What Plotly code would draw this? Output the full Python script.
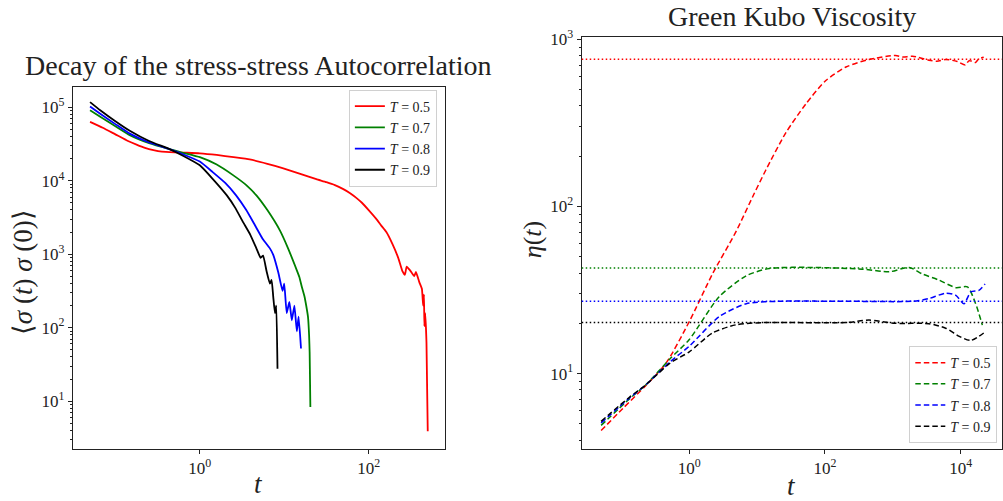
import plotly.graph_objects as go

# ---------------- data ----------------
temps = ["0.5", "0.7", "0.8", "0.9"]

# Left panel: stress-stress autocorrelation <sigma(t) sigma(0)>
acf_t_05 = [0.0501, 0.0708, 0.1, 0.141, 0.178, 0.224, 0.282, 0.355, 0.501, 0.708, 1.0, 1.585, 2.51,
            3.89, 6.31, 9.55, 15.8, 24.0, 31.6, 39.8, 50.1, 60.3, 70.8, 83.2, 100, 123, 141, 162,
            191, 224, 251, 269, 282, 309, 347, 363, 398, 427, 442, 452, 457, 468, 484, 501]
acf_y_05 = [63100, 52500, 42700, 34700, 30900, 27900, 26000, 24800, 24300, 24000, 23600, 22400,
            20900, 19500, 17000, 14800, 12300, 10500, 9550, 8710, 7670, 6760, 5890, 5010, 3980,
            3020, 2450, 2000, 1380, 891, 589, 525, 676, 603, 501, 575, 417, 339, 200, 282, 105,
            158, 63, 3.9]

acf_t_07 = [0.0501, 0.0661, 0.1, 0.148, 0.251, 0.437, 0.631, 1.0, 1.585, 2.45, 3.55, 4.68, 6.31,
            8.91, 11.1, 14.1, 15.1, 16.2, 17.4, 18.2, 19.1, 19.7, 20.0, 20.4]
acf_y_07 = [91200, 74100, 55000, 41700, 32400, 26900, 24000, 20900, 16600, 12000, 8710, 6310,
            3980, 2090, 1200, 603, 490, 355, 263, 200, 141, 79, 46, 8.3]

acf_t_08 = [0.0501, 0.0661, 0.1, 0.148, 0.251, 0.437, 0.631, 1.0, 1.41, 2.0, 2.69, 3.55, 4.47,
            5.62, 6.76, 7.41, 8.51, 9.55, 10.0, 10.7, 11.5, 12.3, 13.2, 14.1, 14.8, 15.8]
acf_y_08 = [102000, 81300, 58900, 43700, 33100, 26900, 22900, 18200, 13200, 9330, 6310, 3980,
            2510, 1580, 1200, 977, 562, 316, 398, 158, 224, 126, 200, 89, 141, 52]

acf_t_09 = [0.0501, 0.0661, 0.1, 0.148, 0.251, 0.437, 0.631, 1.0, 1.41, 2.09, 2.63, 3.24, 3.98,
            4.68, 5.25, 5.62, 6.17, 6.76, 7.08, 7.41, 7.76, 8.04, 8.32]
acf_y_09 = [117500, 91200, 64600, 47900, 34700, 26900, 21900, 16200, 10700, 6310, 4270, 2750,
            1820, 1200, 891, 955, 589, 398, 447, 263, 158, 200, 27.5]

# Right panel: Green-Kubo running viscosity eta(t)
eta_t_05 = [0.0501, 0.105, 0.229, 0.457, 1.0, 2.19, 4.90, 8.91, 13.5, 26.3, 52.5, 102, 204, 447,
            1096, 1413, 1950, 3390, 4470, 6030, 8910, 11750, 13200, 14800, 16600, 18600, 21900]
eta_y_05 = [4.56, 6.19, 8.49, 11.6, 20.5, 39.4, 71.0, 118, 166, 275, 412, 566, 684, 759,
            802, 785, 794, 752, 741, 759, 738, 703, 745, 741, 728, 767, 782]

eta_t_07 = [0.0501, 0.132, 0.229, 0.513, 1.0, 2.75, 6.92, 15.1, 66.1, 355, 891, 1738, 2754, 4786,
            8511, 12600, 16600, 20900]
eta_y_07 = [4.90, 7.08, 8.57, 12.2, 16.0, 28.8, 38.5, 42.6, 43.2, 42.2, 40.7, 43.2, 39.4, 36.3,
            32.7, 33.0, 26.3, 19.5]

eta_t_08 = [0.0501, 0.132, 0.229, 0.513, 1.0, 2.75, 6.92, 21.4, 204, 1950, 3390, 6030, 8510, 11200,
            14100, 18600, 22900]
eta_y_08 = [5.06, 7.16, 8.57, 11.7, 14.6, 21.9, 26.2, 27.1, 27.1, 27.1, 28.1, 30.3, 29.4, 26.2,
            30.8, 31.5, 34.4]

eta_t_09 = [0.0501, 0.132, 0.229, 0.513, 1.0, 2.19, 4.90, 12.0, 204, 447, 1096, 3390, 6030, 9550,
            14100, 21900]
eta_y_09 = [5.18, 7.24, 8.57, 11.5, 13.5, 17.5, 19.6, 20.2, 20.2, 20.9, 20.0, 19.9, 18.7, 16.7,
            15.8, 17.5]

eta_plateau = [762, 42.8, 27.1, 20.2]

# tick labels
left_x_ticks = [1, 100]
left_x_labels = ["10<sup>0</sup>", "10<sup>2</sup>"]
left_y_ticks = [10, 100, 1000, 10000, 100000]
left_y_labels = ["10<sup>1</sup>", "10<sup>2</sup>", "10<sup>3</sup>", "10<sup>4</sup>", "10<sup>5</sup>"]
right_x_ticks = [1, 100, 10000]
right_x_labels = ["10<sup>0</sup>", "10<sup>2</sup>", "10<sup>4</sup>"]
right_y_ticks = [10, 100, 1000]
right_y_labels = ["10<sup>1</sup>", "10<sup>2</sup>", "10<sup>3</sup>"]

# ---------------- styling ----------------
W, H = 1003, 501
FONT = "Liberation Serif"
colors = ["red", "green", "blue", "black"]

acf_t = [acf_t_05, acf_t_07, acf_t_08, acf_t_09]
acf_y = [acf_y_05, acf_y_07, acf_y_08, acf_y_09]
eta_t = [eta_t_05, eta_t_07, eta_t_08, eta_t_09]
eta_y = [eta_y_05, eta_y_07, eta_y_08, eta_y_09]

fig = go.Figure()
for i, T in enumerate(temps):
    fig.add_trace(go.Scatter(x=acf_t[i], y=acf_y[i], mode="lines",
                             line=dict(color=colors[i], width=1.8, shape="spline", smoothing=0.4),
                             name=f"<i>T</i> = {T}", legend="legend",
                             xaxis="x", yaxis="y"))
for i, T in enumerate(temps):
    fig.add_trace(go.Scatter(x=eta_t[i], y=eta_y[i], mode="lines",
                             line=dict(color=colors[i], width=1.5, dash="5.5px,3px",
                                       shape="spline", smoothing=0.7),
                             name=f"<i>T</i> = {T}", legend="legend2",
                             xaxis="x2", yaxis="y2"))

for i, v in enumerate(eta_plateau):
    fig.add_shape(type="line", xref="x2 domain", yref="y2", x0=0, x1=1, y0=v, y1=v,
                  line=dict(color=colors[i], width=1.5, dash="1.5px,2.5px"))


def minor_vals(lo_exp, hi_exp):
    vals = []
    for e in range(lo_exp, hi_exp + 1):
        for m in range(2, 10):
            vals.append(m * 10.0 ** e)
    return vals


axis_common = dict(type="log", showgrid=False, zeroline=False, showline=True, mirror=True,
                   linecolor="#222", linewidth=1, ticks="outside", ticklen=4, tickwidth=1,
                   tickcolor="#222", tickmode="array",
                   tickfont=dict(family=FONT, size=17, color="#222"))

fig.update_layout(
    width=W, height=H,
    margin=dict(l=0, r=0, t=0, b=0),
    paper_bgcolor="white", plot_bgcolor="white",
    font=dict(family=FONT, color="#222"),
    showlegend=True,
    xaxis=dict(axis_common, domain=[73 / W, 445 / W], range=[-1.503, 2.899],
               tickvals=left_x_ticks, ticktext=left_x_labels, anchor="y"),
    yaxis=dict(axis_common, domain=[(H - 448) / H, (H - 79) / H], range=[0.349, 5.281],
               tickvals=left_y_ticks, ticktext=left_y_labels, anchor="x",
               minor=dict(tickvals=minor_vals(0, 5), ticks="outside", ticklen=2,
                          tickcolor="#222", tickwidth=0.8)),
    xaxis2=dict(axis_common, domain=[582.3 / W, 1.0], range=[-1.586, 4.61],
                tickvals=right_x_ticks, ticktext=right_x_labels, anchor="y2"),
    yaxis2=dict(axis_common, domain=[(H - 448) / H, (H - 28.3) / H], range=[0.549, 3.016],
                tickvals=right_y_ticks, ticktext=right_y_labels, anchor="x2",
                minor=dict(tickvals=minor_vals(0, 2), ticks="outside", ticklen=2,
                           tickcolor="#222", tickwidth=0.8)),
    legend=dict(x=437.3 / W, y=(H - 82) / H, xanchor="right", yanchor="top",
                bgcolor="white", bordercolor="#d0d0d0", borderwidth=1,
                font=dict(family=FONT, size=14, color="#222"), tracegroupgap=0,
                itemwidth=30),
    legend2=dict(x=998.3 / W, y=(H - 442) / H, xanchor="right", yanchor="bottom",
                 bgcolor="white", bordercolor="#d0d0d0", borderwidth=1,
                 font=dict(family=FONT, size=14, color="#222"), tracegroupgap=0,
                 itemwidth=30),
)

ann = [
    dict(text="Decay of the stress-stress Autocorrelation", x=259 / W, y=(H - 58) / H,
         font=dict(size=28)),
    dict(text="Green Kubo Viscosity", x=792.6 / W, y=(H - 8) / H, font=dict(size=28)),
    dict(text="<i>t</i>", x=259 / W, y=(H - 484) / H, font=dict(size=27)),
    dict(text="<i>t</i>", x=792.6 / W, y=(H - 486) / H, font=dict(size=27)),
    dict(text="⟨<i>σ</i> (<i>t</i>) <i>σ</i> (0)⟩", x=23 / W, y=(H - 268) / H,
         font=dict(size=27), textangle=-90),
    dict(text="<i>η</i>(<i>t</i>)", x=533 / W, y=(H - 235) / H, font=dict(size=26),
         textangle=-90),
]
for a in ann:
    a.update(xref="paper", yref="paper", showarrow=False, xanchor="center", yanchor="middle")
    a["font"] = dict(family=FONT, color="#222", **a["font"])
fig.update_layout(annotations=ann)

fig.write_html("out.html")
